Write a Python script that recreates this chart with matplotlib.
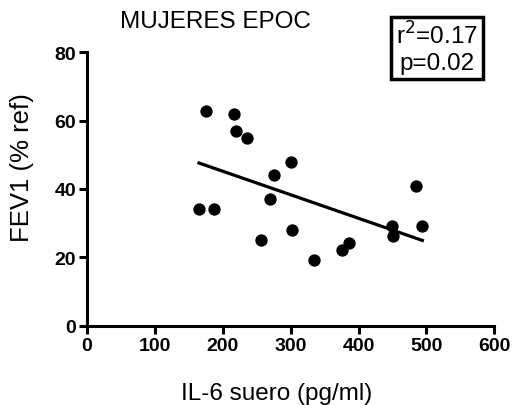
import matplotlib.pyplot as plt
import numpy as np

plt.rcParams['font.family'] = ['Liberation Sans', 'DejaVu Sans']

# IL-6 suero (pg/ml) vs FEV1 (% ref)
il6 = [176, 165, 187, 217, 220, 236, 300, 275, 269, 257, 302, 334, 376, 386, 449, 451, 485, 494]
fev1 = [62.8, 34.0, 34.0, 61.8, 57.0, 54.9, 47.9, 44.0, 37.0, 25.1, 28.1, 19.1, 22.0, 24.1, 29.1, 26.1, 40.9, 29.1]
x_ticks = [0, 100, 200, 300, 400, 500, 600]
y_ticks = [0, 20, 40, 60, 80]

fig = plt.figure(figsize=(5.13, 4.06), dpi=100)
ax = fig.add_axes([87 / 513, 1 - 326.6 / 406, (494.3 - 87) / 513, (326.6 - 53.3) / 406])

ax.scatter(il6, fev1, s=62, color='black', zorder=3, clip_on=False)

# linear regression line over data range
x = np.array(il6)
slope, intercept = np.polyfit(x, fev1, 1)
xs = np.array([x.min(), x.max()])
ax.plot(xs, slope * xs + intercept, color='black', lw=2.3)

ax.set_xlim(0, 600)
ax.set_ylim(0, 80)
ax.set_xticks(x_ticks)
ax.set_yticks(y_ticks)
for s in ['top', 'right']:
    ax.spines[s].set_visible(False)
for s in ['left', 'bottom']:
    ax.spines[s].set_linewidth(2.2)
ax.tick_params(width=2.2, length=6, labelsize=14, pad=2)
for lab in ax.get_xticklabels() + ax.get_yticklabels():
    lab.set_fontweight('bold')

fig.text(277 / 513, 1 - 400 / 406, 'IL-6 suero (pg/ml)', ha='center', va='baseline', fontsize=17.5)
fig.text(22 / 513, 1 - 168 / 406, 'FEV1 (% ref)', ha='center', va='center', fontsize=18.5, rotation=90)
fig.text(215 / 513, 1 - 28.5 / 406, 'MUJERES EPOC', ha='center', va='baseline', fontsize=17.5)

fig.text(437 / 513, 1 - 49 / 406, 'r$^2$=0.17\np=0.02', ha='center', va='center', fontsize=17.5,
         linespacing=1.2,
         bbox=dict(boxstyle='square,pad=0.2', facecolor='white', edgecolor='black', lw=2.5))

fig.savefig('out.png', dpi=100)
